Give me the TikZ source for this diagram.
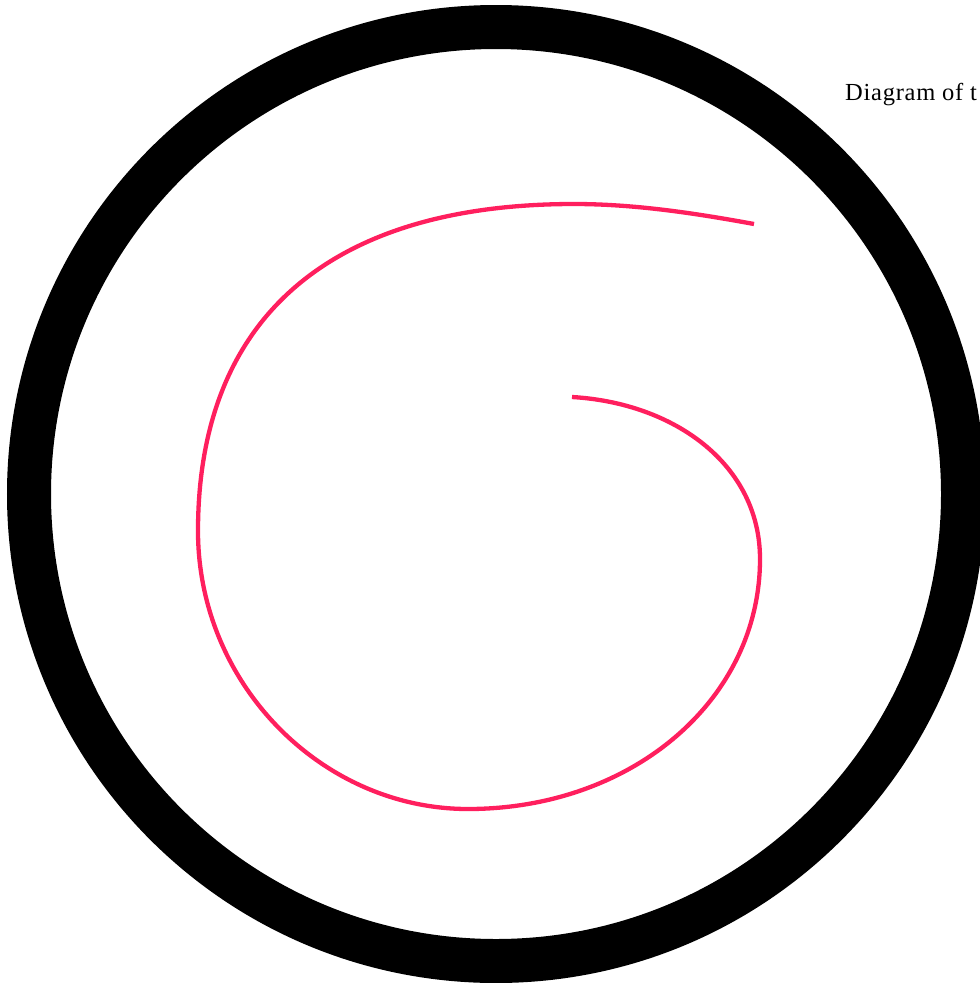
\documentclass[tikz,border=0pt]{standalone}
\usepackage{fontspec}
\setmainfont{Liberation Serif}
\usetikzlibrary{positioning}
\definecolor{spiralPink}{HTML}{FF1F5E}

\begin{document}
\begin{tikzpicture}[
  x=1pt, y=-1pt,
  rim/.style={draw=black, line width=44pt},
  spiral/.style={draw=spiralPink, line width=4.3pt, line join=round},
  caption/.style={font=\fontsize{24.5}{28}\selectfont\addfontfeature{LetterSpace=3}, inner sep=0pt, anchor=base west}
]
  %% --- geometria (unita': pt, asse y verso il basso) ---
  \def\cx{496}     % centro del cerchio
  \def\cy{494}
  \def\rr{467}     % raggio della linea mediana del bordo

  \useasboundingbox (0,0) rectangle (980,983);

  %% --- bordo nero ---
  \draw[rim] (\cx,\cy) circle[radius=\rr];

  %% --- spirale, dal centro verso l'esterno (quattro quarti + coda) ---
  \draw[spiral] (572,397)
    .. controls (675,403) and (760,465) .. (760,559)
    .. controls (760,700) and (632,809) .. (468,809)
    .. controls (322,809) and (198,684) .. (198,531)
    .. controls (198,318) and (330,204) .. (574,204)
    .. controls (634,204) and (694,213) .. (754,224);

  %% --- didascalia, tagliata dal bordo della pagina ---
  \node[caption] (title) at (845,100.7) {Diagram of t};
\end{tikzpicture}
\end{document}
